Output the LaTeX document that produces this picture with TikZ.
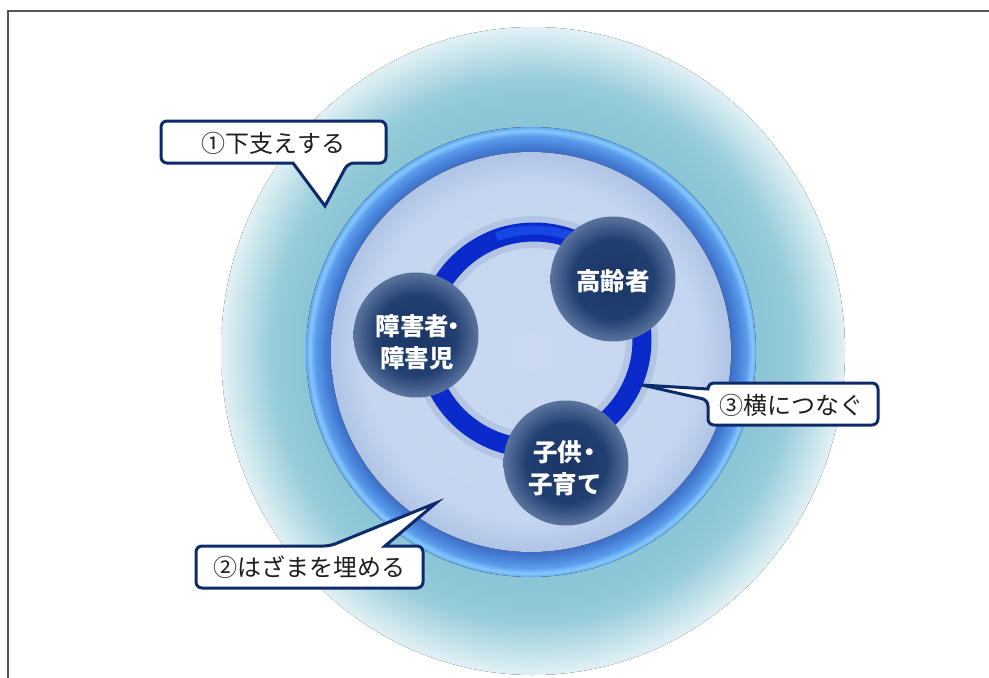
\documentclass[tikz,border=0pt]{standalone}
\usepackage{fontspec}
\newfontfamily\jp{Noto Sans CJK JP}
\definecolor{framecol}{HTML}{555555}
\definecolor{oc1}{HTML}{8CC5D5}
\definecolor{oc2}{HTML}{98CDDA}
\definecolor{oc3}{HTML}{E2F1F5}
\definecolor{bz1}{HTML}{3A68C0}
\definecolor{bz2}{HTML}{4680D6}
\definecolor{bz3}{HTML}{5A9CEC}
\definecolor{bz4}{HTML}{86C8FC}
\definecolor{bz5}{HTML}{5FA6EE}
\definecolor{dc1}{HTML}{CAD9F1}
\definecolor{dc2}{HTML}{C4D5EF}
\definecolor{dc3}{HTML}{AFC4E6}
\definecolor{sp1}{HTML}{1A3565}
\definecolor{sp2}{HTML}{213F71}
\definecolor{sp3}{HTML}{5B749E}
\definecolor{ringblue}{HTML}{0A2ACB}
\definecolor{ringhi}{HTML}{1F5AF5}
\definecolor{ringglow}{HTML}{7F96C4}
\definecolor{callborder}{HTML}{0D2A6A}
\definecolor{calltext}{HTML}{1E1E1E}
\pgfdeclareradialshading{outerS}{\pgfpoint{0bp}{0bp}}{color(0bp)=(oc1); color(18.5bp)=(oc1); color(21bp)=(oc2); color(25bp)=(oc3); color(50bp)=(oc3)}
\pgfdeclareradialshading{bezelS}{\pgfpoint{0bp}{0bp}}{color(0bp)=(bz1); color(22bp)=(bz1); color(23bp)=(bz2); color(24bp)=(bz3); color(24.6bp)=(bz4); color(25bp)=(bz5); color(50bp)=(bz5)}
\pgfdeclareradialshading{discS}{\pgfpoint{0bp}{0bp}}{color(0bp)=(dc1); color(21bp)=(dc2); color(25bp)=(dc3); color(50bp)=(dc3)}
\pgfdeclareradialshading{sphereS}{\pgfpoint{0bp}{0bp}}{color(0bp)=(sp1); color(16bp)=(sp2); color(25bp)=(sp3); color(50bp)=(sp3)}
\tikzset{
  sphere/.style={circle, minimum size=125pt, inner sep=0pt, shading=sphereS},
  spheretext/.style={text=white, font=\jp\bfseries\fontsize{24.5}{32}\selectfont, align=center, inner sep=0pt},
  calltxt/.style={text=calltext, font=\jp\fontsize{24}{28}\selectfont, inner sep=0pt},
  callshape/.style={draw=callborder, fill=white, line width=3pt, line join=miter},
}
\begin{document}
\begin{tikzpicture}[x=1pt,y=-1pt]
\useasboundingbox (0,0) rectangle (989,678);
% frame
\draw[framecol, line width=1.3pt] (8,680) -- (8,11) -- (992,11);
% outer halo
\fill[shading=outerS] (533,351) ellipse [x radius=312pt, y radius=324pt];
% bezel and disc
\fill[shading=bezelS] (531,352) circle [radius=225pt];
\fill[shading=discS] (531,352) circle [radius=200pt];
% ring
\draw[ringglow, line width=32pt, opacity=0.25] (534,340) circle [radius=108pt];
\draw[ringblue, line width=19pt] (534,340) circle [radius=108pt];
\draw[ringhi, line width=9pt, opacity=0.6] (534,340) ++(10:110pt) arc[start angle=10, end angle=110, radius=110pt];
% spheres
\node[sphere] (s1) at (613,279) {};
\node[sphere] (s2) at (416,335) {};
\node[sphere] (s3) at (566,463) {};
\node[spheretext] (l1) at (613,281) {高齢者};
\node[spheretext] (l2) at (417,342) {障害者\hbox to 0.35em{\hss ・\hss}\\障害児};
\node[spheretext] (l3) at (565,468) {子供\hbox to 0.6em{\hss ・\hss}\\子育て};
% callout 1
\draw[callshape] (274,121) [rounded corners=6pt] -- (386,121) -- (386,163) -- (348,163) [sharp corners] -- (325,206) -- (293,163) [rounded corners=6pt] -- (161,163) -- (161,121) -- cycle;
\node[calltxt] (c1) at (273,143) {①下支えする};
% callout 2
\draw[callshape] (309,588) [rounded corners=6pt] -- (196,588) -- (196,546) -- (330,546) [sharp corners] -- (436,503) -- (385,546) [rounded corners=6pt] -- (423,546) -- (423,588) -- cycle;
\node[calltxt] (c2) at (309,567) {②はざまを埋める};
% callout 3
\draw[callshape] (793,383) [rounded corners=6pt] -- (878,383) -- (878,425) -- (708,425) -- (708,400) [sharp corners] -- (642,385) -- (708,389) [rounded corners=6pt] -- (708,383) -- cycle;
\node[calltxt] (c3) at (791,405) {③横につなぐ};
\end{tikzpicture}
\end{document}
